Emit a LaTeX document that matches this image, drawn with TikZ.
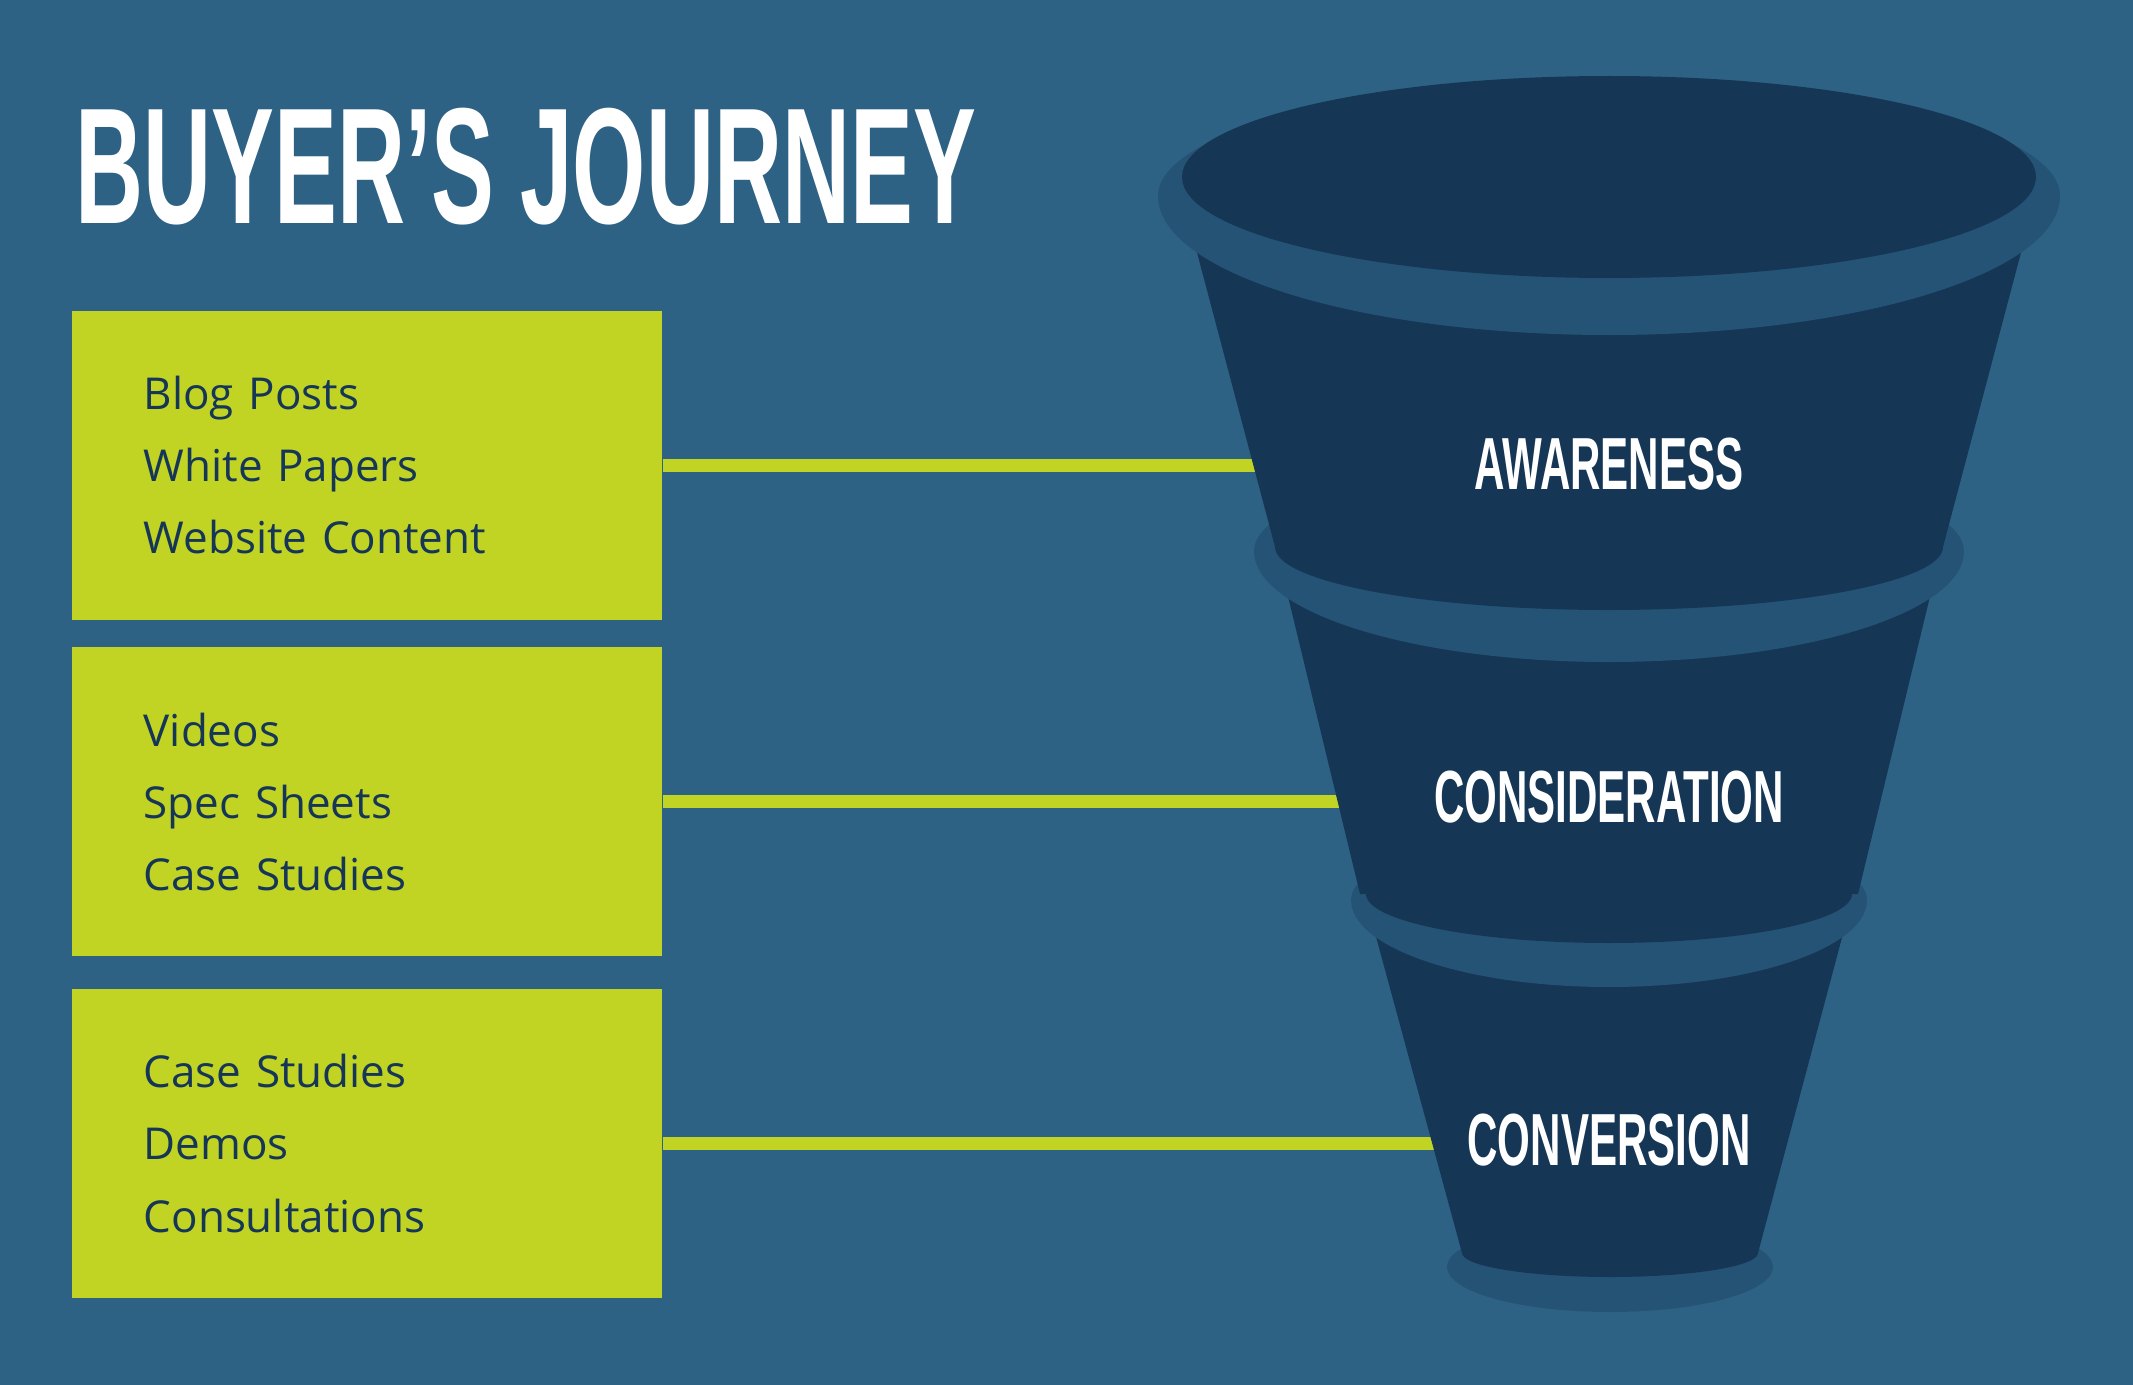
\documentclass[tikz,border=0pt]{standalone}
\usepackage{fontspec}
\newfontfamily\bodyfont{Open Sans}
\newfontfamily\headfont{Liberation Sans}[FakeStretch=0.57]
\definecolor{Backdrop}{RGB}{46,98,133}
\definecolor{FunnelDark}{RGB}{22,54,86}
\definecolor{FunnelRim}{RGB}{37,83,117}
\definecolor{Lime}{RGB}{193,212,36}
\definecolor{InkNavy}{RGB}{22,54,88}
\usetikzlibrary{positioning}

\begin{document}
\begin{tikzpicture}[x=0.01cm,y=-0.01cm,node distance=0.26cm,
  box/.style={fill=Lime,minimum width=5.9cm,minimum height=3.09cm,inner xsep=0.72cm,
    text width=4.46cm,align=left,text=InkNavy,font=\bodyfont\fontsize{12.5}{20.5}\selectfont},
  stage/.style={text=white,inner sep=0pt,font=\headfont\bfseries\fontsize{21}{24}\selectfont},
  link/.style={draw=Lime,line width=0.13cm},
  rim/.style={fill=FunnelRim},
  cup/.style={fill=FunnelDark}]
  \fill[Backdrop] (0,0) rectangle (2133,1385);
  \useasboundingbox (0,0) rectangle (2133,1385);

  \node[anchor=base west,inner sep=0pt,text=white,font=\headfont\bfseries\fontsize{47}{50}\selectfont] (title) at (75,224) {BUYER’S JOURNEY};

  % content boxes
  \node[box,anchor=north west] (box1) at (71,310) {Blog Posts\\White Papers\\Website Content};
  \node[box,below=of box1] (box2) {Videos\\Spec Sheets\\Case Studies};
  \node[box,below=0.31cm of box2] (box3) {Case Studies\\Demos\\Consultations};

  \coordinate (aware) at (1609,464);
  \coordinate (consid) at (1609,797);
  \coordinate (conver) at (1609,1140);
  \draw[link] (box1.east) -- (box1.east -| aware);
  \draw[link] (box2.east) -- (box2.east -| consid);
  \draw[link] (box3.east) -- (box3.east -| conver);

  % funnel, bottom up
  \fill[rim] (1610,1267) ellipse[x radius=163,y radius=45];
  \fill[cup] (1366,900) -- (1462,1253) arc[start angle=180,end angle=0,x radius=148,y radius=24] -- (1852,900) -- cycle;
  \fill[rim] (1351,900) arc[start angle=180,end angle=360,x radius=258,y radius=70] arc[start angle=0,end angle=180,x radius=258,y radius=87] -- cycle;
  \fill[cup] (1609,894) ellipse[x radius=243,y radius=49];
  \fill[cup] (1277,551) -- (1360,894) -- (1858,894) -- (1941,551) -- cycle;
  \fill[rim] (1254,551) arc[start angle=180,end angle=360,x radius=355,y radius=90] arc[start angle=0,end angle=180,x radius=355,y radius=111] -- cycle;
  \fill[cup] (1609,547) ellipse[x radius=334,y radius=63];
  \fill[cup] (1182,196) -- (1275,547) -- (1943,547) -- (2036,196) -- cycle;
  \fill[rim] (1158,196) arc[start angle=180,end angle=360,x radius=451,y radius=116] arc[start angle=0,end angle=180,x radius=451,y radius=139] -- cycle;
  \fill[cup] (1609,177) ellipse[x radius=427,y radius=101];

  \node[stage] (awareness) at (aware) {AWARENESS};
  \node[stage] (consideration) at (consid) {CONSIDERATION};
  \node[stage] (conversion) at (conver) {CONVERSION};
\end{tikzpicture}
\end{document}
